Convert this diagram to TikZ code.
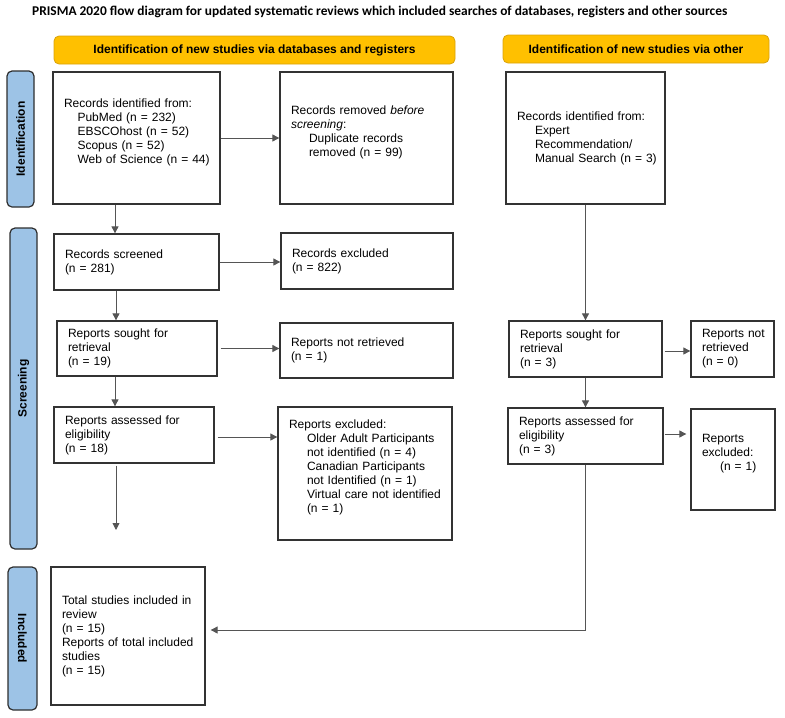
\documentclass[tikz,border=0pt]{standalone}
\usepackage{fontspec}
\setmainfont{Liberation Sans}
\newfontfamily\titlefont{Carlito}
\usetikzlibrary{arrows.meta}
\definecolor{hdr}{HTML}{FFC000}
\definecolor{hdrline}{HTML}{D9A20A}
\definecolor{sidefill}{HTML}{9DC3E6}
\definecolor{sideline}{HTML}{2E2E2E}
\definecolor{boxline}{HTML}{333333}
\definecolor{conn}{HTML}{555555}
\newcommand\ind{\hspace*{18pt}}
\begin{document}
\begin{tikzpicture}[x=1pt,y=-1pt,
  box/.style={draw=boxline, line width=1.3pt, rectangle, inner xsep=11pt, inner ysep=0pt,
    align=left, font=\fontsize{12}{14}\selectfont},
  hdrbox/.style={draw=hdrline, fill=hdr, line width=0.8pt, rounded corners=5pt,
    font=\bfseries\fontsize{12}{14}\selectfont, inner sep=0pt},
  sidebox/.style={draw=sideline, fill=sidefill, line width=1.2pt, rounded corners=5pt, inner sep=0pt},
  sidetext/.style={font=\bfseries\fontsize{12}{14}\selectfont, inner sep=0pt},
  arr/.style={draw=conn, line width=0.9pt, -{Triangle[length=7pt,width=7pt]}}]
\useasboundingbox (0,0) rectangle (785,718);

% title
\node[anchor=west, inner sep=0pt, font=\titlefont\bfseries\fontsize{13.4}{15}\selectfont] (title) at (32,11.5)
  {PRISMA 2020 flow diagram for updated systematic reviews which included searches of databases, registers and other sources};

% headers
\node[hdrbox, minimum width=401pt, minimum height=28pt] (h1) at (254.5,50)
  {Identification of new studies via databases and registers};
\node[hdrbox, minimum width=266pt, minimum height=28pt] (h2) at (636,49)
  {Identification of new studies via other};

% side labels
\node[sidebox, minimum width=27pt, minimum height=136pt] (s1) at (20.5,139) {};
\node[sidetext, rotate=90] (s1t) at (s1.center) {Identification};
\node[sidebox, minimum width=27pt, minimum height=321pt] (s2) at (23.5,388.5) {};
\node[sidetext, rotate=90] (s2t) at (s2.center) {Screening};
\node[sidebox, minimum width=29pt, minimum height=143pt] (s3) at (22.5,638.5) {};
\node[sidetext, rotate=-90] (s3t) at (s3.center) {Included};

% boxes
\node[box, minimum width=167pt, minimum height=132pt, text width=145pt] (A) at (136.5,138)
  {Records identified from:\\
   \hspace*{13.5pt}PubMed (n = 232)\\
   \hspace*{13.5pt}EBSCOhost (n = 52)\\
   \hspace*{13.5pt}Scopus (n = 52)\\
   \hspace*{13.5pt}\mbox{Web of Science (n = 44)}\\
   \mbox{}};
\node[box, minimum width=173pt, minimum height=132pt, text width=151pt] (B) at (366.5,138)
  {Records removed \textit{before}\\
   \textit{screening}:\\
   \ind Duplicate records\\
   \ind removed (n = 99)\\
   \mbox{}};
\node[box, minimum width=159pt, minimum height=132pt, text width=137pt] (C) at (585.5,138)
  {Records identified from:\\
   \ind Expert\\
   \ind Recommendation/\\
   \ind \mbox{Manual Search (n = 3)}};
\node[box, minimum width=165pt, minimum height=56pt, text width=143pt] (D) at (136.5,262)
  {Records screened\\(n = 281)};
\node[box, minimum width=172pt, minimum height=56pt, text width=150pt] (E) at (367,261)
  {Records excluded\\(n = 822)};
\node[box, minimum width=160pt, minimum height=55pt, text width=138pt] (F) at (137,348.5)
  {Reports sought for\\retrieval\\(n = 19)};
\node[box, minimum width=173pt, minimum height=55pt, text width=151pt] (G) at (366.5,350.5)
  {Reports not retrieved\\(n = 1)};
\node[box, minimum width=153pt, minimum height=56pt, text width=131pt] (H) at (585.5,349)
  {Reports sought for\\retrieval\\(n = 3)};
\node[box, minimum width=83pt, minimum height=56pt, text width=61pt] (I) at (732.5,349)
  {\mbox{Reports not}\\retrieved\\(n = 0)};
\node[box, minimum width=160pt, minimum height=56pt, text width=138pt] (J) at (134,435)
  {Reports assessed for\\eligibility\\(n = 18)};
\node[box, minimum width=174pt, minimum height=133pt, text width=152pt] (K) at (365,473.5)
  {Reports excluded:\\
   \ind \mbox{Older Adult Participants}\\
   \ind \mbox{not identified (n = 4)}\\
   \ind \mbox{Canadian Participants}\\
   \ind \mbox{not Identified (n = 1)}\\
   \ind \mbox{Virtual care not identified}\\
   \ind (n = 1)\\
   \mbox{}};
\node[box, minimum width=155pt, minimum height=56pt, text width=133pt] (L) at (585.5,436)
  {Reports assessed for\\eligibility\\(n = 3)};
\node[box, minimum width=84pt, minimum height=101pt, text width=62pt] (M) at (733,459.5)
  {Reports\\excluded:\\
   \ind (n = 1)\\
   \mbox{}};
\node[box, minimum width=154pt, minimum height=138pt, text width=132pt] (N) at (128,636)
  {\mbox{Total studies included in}\\
   review\\
   (n = 15)\\
   \mbox{Reports of total included}\\
   studies\\
   (n = 15)};

\coordinate (Jend) at (116,530);

% connectors
\draw[arr] (A.east) -- (A.east -| B.west);
\draw[arr] ([xshift=-21.5pt]A.south) -- ([xshift=-21.5pt]D.north);
\draw[arr] (D.east) -- (D.east -| E.west);
\draw[arr] ([xshift=-20.5pt]D.south) -- ([xshift=-21pt]F.north);
\draw[arr, shorten <=3pt] (F.east) -- (F.east -| G.west);
\draw[arr] ([xshift=-22pt]F.south) -- ([xshift=-19pt]J.north);
\draw[arr, shorten <=3pt] ([yshift=-2pt]J.east) -- ([yshift=-2pt]J.east -| K.west);
\draw[arr, shorten <=2pt] ([xshift=-18pt]J.south) -- (Jend);
\draw[arr] (C.south) -- (H.north);
\draw[arr, shorten <=2pt] ([yshift=-2pt]H.east) -- ([yshift=-2pt]H.east -| I.west);
\draw[arr] (H.south) -- (L.north);
\draw[arr, shorten <=1pt, shorten >=4pt] ([yshift=2pt]L.east) -- ([yshift=2pt]L.east -| M.west);
\draw[arr, shorten >=5pt] (L.south) |- ([yshift=6pt]N.east);
\end{tikzpicture}
\end{document}
